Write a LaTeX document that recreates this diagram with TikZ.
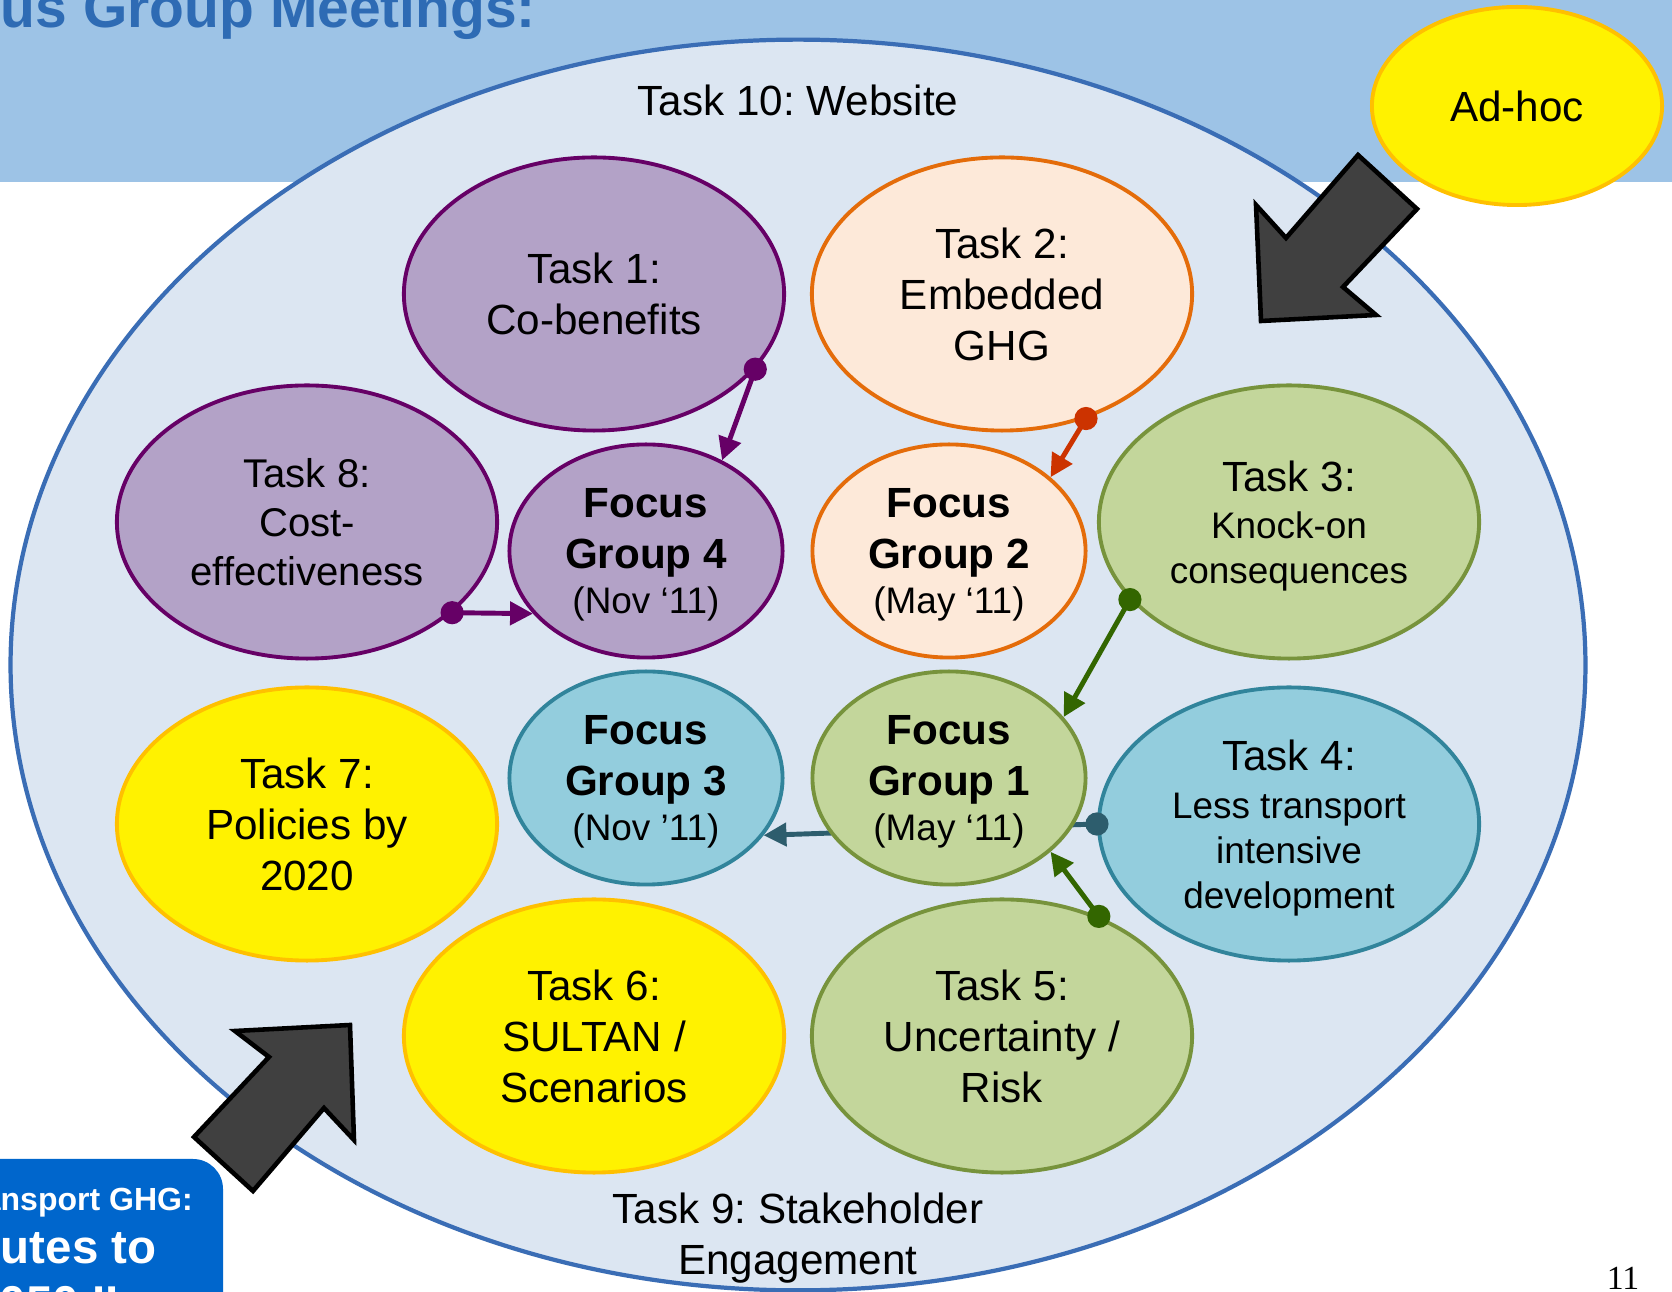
\documentclass[tikz,border=0pt]{standalone}
\usepackage{fontspec}
\setmainfont{Liberation Sans}
\newfontfamily\pagefont{Liberation Serif}
\usetikzlibrary{shapes.geometric,arrows.meta}
\frenchspacing

\definecolor{bandblue}{HTML}{9DC3E6}
\definecolor{titleblue}{HTML}{2E6BB4}
\definecolor{boxblue}{HTML}{0066CC}
\definecolor{webfill}{HTML}{DCE6F2}
\definecolor{webline}{HTML}{3A6DB5}
\definecolor{purplefill}{HTML}{B3A2C7}
\definecolor{purpleline}{HTML}{660066}
\definecolor{orangefill}{HTML}{FDE9D9}
\definecolor{orangeline}{HTML}{E46C0A}
\definecolor{greenfill}{HTML}{C3D69B}
\definecolor{greenline}{HTML}{77933C}
\definecolor{tealfill}{HTML}{93CDDD}
\definecolor{tealline}{HTML}{31849B}
\definecolor{yellowline}{HTML}{FFC000}
\definecolor{redarrow}{HTML}{CC3300}
\definecolor{greenarrow}{HTML}{336600}
\definecolor{tealarrow}{HTML}{2D5D6D}
\definecolor{blockgrey}{HTML}{404040}

\begin{document}
\begin{tikzpicture}[x=0.01cm, y=-0.01cm,
    task/.style={ellipse, line width=1.1pt, minimum width=3.8cm, minimum height=2.73cm,
      inner sep=0pt, align=center, text depth=-1.2pt, font=\fontsize{12}{14.5}\selectfont},
    focus/.style={ellipse, line width=1.1pt, minimum width=2.73cm, minimum height=2.13cm,
      inner sep=0pt, align=center, text depth=-4pt, font=\fontsize{12}{14.7}\selectfont},
    small/.style={text depth=-3pt, font=\fontsize{10.5}{12.8}\selectfont},
    grpurple/.style={draw=purpleline, fill=purplefill},
    grorange/.style={draw=orangeline, fill=orangefill},
    grgreen/.style={draw=greenline, fill=greenfill},
    grteal/.style={draw=tealline, fill=tealfill},
    gryellow/.style={draw=yellowline, fill=yellow},
    link/.style={line width=1.4pt, -{Triangle[length=6.5pt,width=6.5pt]}},
    blockarrow/.style={fill=blockgrey, draw=black, line width=1.3pt}]
    \useasboundingbox (0,0) rectangle (1672,1292);
    \clip (0,0) rectangle (1672,1292);
    \fill[white] (0,0) rectangle (1672,1292);
    \fill[bandblue] (0,0) rectangle (1672,182);
    \node[anchor=base west, inner sep=0pt, text=titleblue, font=\bfseries\fontsize{16.2}{19}\selectfont] (title) at (-101,28) {Focus Group Meetings:};

    % project box, bottom left
    \fill[boxblue, rounded corners=0.3cm] (-300,1159) rectangle (223,1500);
    \node[anchor=base, inner sep=0pt, text=white, font=\bfseries\fontsize{9.1}{11}\selectfont] (proj1) at (46,1211) {EU Transport GHG:};
    \node[anchor=base, inner sep=0pt, text=white, font=\bfseries\fontsize{13.5}{16}\selectfont] (proj2) at (47,1264) {Routes to};
    \node[anchor=base, inner sep=0pt, text=white, font=\bfseries\fontsize{13.5}{16}\selectfont] (proj3) at (46,1320) {2050 II};

    \node[ellipse, draw=webline, fill=webfill, line width=1.2pt, minimum width=15.74cm, minimum height=12.5cm] (web) at (798,665) {};
    \node[anchor=base, inner sep=0pt, font=\fontsize{12}{14.5}\selectfont] (t10) at (798,116) {Task 10: Website};
    \node[inner sep=0pt, align=center, font=\fontsize{12}{14.5}\selectfont] (t9) at (798,1238) {Task 9: Stakeholder\\Engagement};

    \node[task, grpurple] (t1) at (594,294) {Task 1:\\Co-benefits};
    \node[task, grorange] (t2) at (1002,294) {Task 2:\\Embedded\\GHG};
    \node[task, grpurple, font=\fontsize{11.4}{14}\selectfont] (t8) at (307,522) {Task 8:\\Cost-\\effectiveness};
    \node[focus, grpurple] (fg4) at (646,551) {\textbf{Focus}\\\textbf{Group 4}\\[-1.9pt]{\fontsize{10.5}{12.6}\selectfont (Nov ‘11)}};
    \node[focus, grorange] (fg2) at (949,551) {\textbf{Focus}\\\textbf{Group 2}\\[-1.9pt]{\fontsize{10.5}{12.6}\selectfont (May ‘11)}};
    \node[task, grgreen, small] (t3) at (1289,522) {{\fontsize{12}{14.5}\selectfont Task 3:}\\[0.6pt]Knock-on\\consequences};
    \node[task, gryellow] (t7) at (307,824) {Task 7:\\Policies by\\2020};
    \node[focus, grteal] (fg3) at (646,778) {\textbf{Focus}\\\textbf{Group 3}\\[-1.9pt]{\fontsize{10.5}{12.6}\selectfont (Nov ’11)}};
    \node[task, grteal, small] (t4) at (1289,824) {{\fontsize{12}{14.5}\selectfont Task 4:}\\[0.8pt]Less transport\\intensive\\development};
    \draw[link, tealarrow] (t4.west) -- (fg3.-26); % runs behind Focus Group 1
    \node[focus, grgreen] (fg1) at (949,778) {\textbf{Focus}\\\textbf{Group 1}\\[-1.9pt]{\fontsize{10.5}{12.6}\selectfont (May ‘11)}};
    \node[task, gryellow] (t6) at (594,1036) {Task 6:\\SULTAN /\\Scenarios};
    \node[task, grgreen] (t5) at (1002,1036) {Task 5:\\Uncertainty /\\Risk};
    \node[ellipse, gryellow, line width=1.1pt, minimum width=2.9cm, minimum height=1.98cm, font=\fontsize{12}{14.5}\selectfont] (adhoc) at (1517,106) {Ad-hoc};

    \draw[link, purpleline] (t1.-25) -- (fg4.50);
    \draw[link, purpleline] (t8.-32) -- (fg4.209);
    \draw[link, redarrow] (t2.-56) -- (fg2.36);
    \draw[link, greenarrow] (t3.206) -- (fg1.28);
    \draw[link, greenarrow] (t5.51) -- (fg1.-36);
    \foreach \p/\c in {t1.-25/purpleline, t8.-32/purpleline, t2.-56/redarrow, t3.206/greenarrow, t4.west/tealarrow, t5.51/greenarrow}
      \fill[\c] (\p) circle (3.3pt);

    % block arrows
    \filldraw[blockarrow] (1261,321) -- (1256,205) -- (1286,238) -- (1358,155) -- (1417,209) -- (1343,287) -- (1376,315) -- cycle;
    \filldraw[blockarrow] (350,1025) -- (235,1031) -- (269,1057) -- (194,1137) -- (253,1191) -- (324,1108) -- (354,1140) -- cycle;

    \node[anchor=base, inner sep=0pt, font=\pagefont\fontsize{9.6}{11}\selectfont] (page) at (1623,1290) {11};
\end{tikzpicture}
\end{document}
